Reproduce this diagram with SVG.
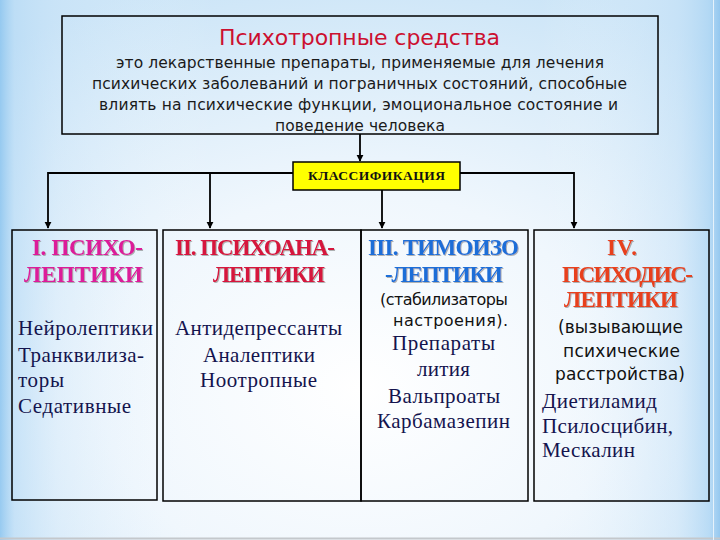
<svg xmlns="http://www.w3.org/2000/svg" width="720" height="540" viewBox="0 0 720 540">
  <defs>
    <radialGradient id="bgR" cx="0.5" cy="0.72" r="0.8">
      <stop offset="0" stop-color="#ffffff"/>
      <stop offset="0.45" stop-color="#f0f7fd"/>
      <stop offset="1" stop-color="#cae4f7"/>
    </radialGradient>
    <linearGradient id="bgL" x1="0" y1="0" x2="1" y2="0">
      <stop offset="0" stop-color="#8fc6ef" stop-opacity="0.9"/>
      <stop offset="0.02" stop-color="#b4d9f5" stop-opacity="0.6"/>
      <stop offset="0.08" stop-color="#c8e3f8" stop-opacity="0.3"/>
      <stop offset="0.3" stop-color="#ffffff" stop-opacity="0"/>
      <stop offset="0.75" stop-color="#ffffff" stop-opacity="0"/>
      <stop offset="0.94" stop-color="#c3e0f7" stop-opacity="0.4"/>
      <stop offset="0.985" stop-color="#a8d3f3" stop-opacity="0.7"/>
      <stop offset="1" stop-color="#8ec4ee" stop-opacity="0.9"/>
    </linearGradient>
    <marker id="arr" viewBox="0 0 10 10" refX="9" refY="5" markerWidth="4" markerHeight="4" orient="auto" markerUnits="strokeWidth">
      <path d="M0,0 L10,5 L0,10 z" fill="#000"/>
    </marker>
    <filter id="sh" x="-10%" y="-20%" width="120%" height="140%">
      <feDropShadow dx="1" dy="1" stdDeviation="0.6" flood-color="#808080" flood-opacity="0.6"/>
    </filter>
    <style>
      .box{fill:none;stroke:#000;stroke-width:1.5}
      .conn{stroke:#000;stroke-width:1.8;fill:none}
      .sans{font-family:"DejaVu Sans","Liberation Sans",sans-serif;fill:#1a1a1a}
      .serif{font-family:"Liberation Serif","Times New Roman",serif}
      .hd{font-family:"Liberation Serif","Times New Roman",serif;font-weight:bold;font-size:23px;filter:url(#sh)}
      .body{font-family:"Liberation Serif","Times New Roman",serif;font-size:21px;fill:#14144e}
      .small{font-family:"DejaVu Sans","Liberation Sans",sans-serif;font-size:16px;fill:#111}
      .small2{font-family:"DejaVu Sans","Liberation Sans",sans-serif;font-size:17px;fill:#111}
    </style>
  </defs>

  <rect x="0" y="0" width="720" height="540" fill="url(#bgR)"/>
  <rect x="0" y="0" width="720" height="540" fill="url(#bgL)"/>
  <line x1="0" y1="538.5" x2="720" y2="538.5" stroke="#c4c8cc" stroke-width="2"/>
  <line x1="713.5" y1="0" x2="713.5" y2="540" stroke="#e6f2fb" stroke-width="1"/>

  <g id="connectors">
    <line class="conn" x1="360" y1="134" x2="360" y2="161" marker-end="url(#arr)"/>
    <polyline class="conn" points="293,173 48,173 48,228" marker-end="url(#arr)"/>
    <line class="conn" x1="210" y1="173" x2="210" y2="228" marker-end="url(#arr)"/>
    <line class="conn" x1="382" y1="190" x2="382" y2="228" marker-end="url(#arr)"/>
    <polyline class="conn" points="460,173 574,173 574,228" marker-end="url(#arr)"/>
  </g>

  <g id="definition">
    <rect class="box" x="62" y="16" width="596" height="118"/>
    <text x="219" y="45" font-family="DejaVu Sans, Liberation Sans, sans-serif" font-size="22" fill="#cc1030" textLength="281">Психотропные средства</text>
    <text class="sans" font-size="15.5" x="116" y="68" textLength="488">это лекарственные препараты, применяемые для лечения</text>
    <text class="sans" font-size="15.5" x="92" y="89" textLength="535">психических заболеваний и пограничных состояний, способные</text>
    <text class="sans" font-size="15.5" x="99" y="110" textLength="519">влиять на психические функции, эмоциональное состояние и</text>
    <text class="sans" font-size="15.5" x="275" y="131" textLength="170">поведение человека</text>
  </g>

  <g id="classification">
    <rect x="293" y="162" width="167" height="28" fill="#ffff00" stroke="#000" stroke-width="1.5"/>
    <text class="serif" x="308" y="180" font-size="13.5" font-weight="bold" fill="#111" textLength="137">КЛАССИФИКАЦИЯ</text>
  </g>

  <g id="group1">
    <rect class="box" x="12" y="230" width="145" height="270"/>
    <text class="hd" x="32" y="255" fill="#dc1a9a" textLength="111">I. ПСИХО-</text>
    <text class="hd" x="24" y="282" fill="#dc1a9a" textLength="119">ЛЕПТИКИ</text>
    <text class="body" x="18" y="335" textLength="135">Нейролептики</text>
    <text class="body" x="18" y="362" textLength="126">Транквилиза-</text>
    <text class="body" x="18" y="387" textLength="46">торы</text>
    <text class="body" x="18" y="413" textLength="113">Седативные</text>
  </g>

  <g id="group2">
    <rect class="box" x="163" y="230" width="198" height="271"/>
    <text class="hd" x="175" y="255" fill="#d6123e" textLength="160">II. ПСИХОАНА-</text>
    <text class="hd" x="213" y="282" fill="#d6123e" textLength="112">ЛЕПТИКИ</text>
    <text class="body" x="175" y="335" textLength="167">Антидепрессанты</text>
    <text class="body" x="203" y="362" textLength="112">Аналептики</text>
    <text class="body" x="200" y="387" textLength="117">Ноотропные</text>
  </g>

  <g id="group3">
    <rect class="box" x="361" y="230" width="167" height="271"/>
    <text class="hd" x="368" y="255" fill="#1e6ed8" textLength="151">III. ТИМОИЗО</text>
    <text class="hd" x="385" y="282" fill="#1e6ed8" textLength="118">-ЛЕПТИКИ</text>
    <text class="small" x="380" y="305" textLength="128">(стабилизаторы</text>
    <text class="small" x="393" y="326" textLength="115">настроения).</text>
    <text class="body" x="392" y="350" textLength="103">Препараты</text>
    <text class="body" x="417" y="376" textLength="53">лития</text>
    <text class="body" x="388" y="403" textLength="112">Вальпроаты</text>
    <text class="body" x="377" y="428" textLength="133">Карбамазепин</text>
  </g>

  <g id="group4">
    <rect class="box" x="534" y="230" width="175" height="271"/>
    <text class="hd" x="607" y="255" fill="#e8401c" textLength="30">IV.</text>
    <text class="hd" x="562" y="282" fill="#e8401c" textLength="131">ПСИХОДИС-</text>
    <text class="hd" x="564" y="307" fill="#e8401c" textLength="114">ЛЕПТИКИ</text>
    <text class="small2" x="558" y="333" textLength="125">(вызывающие</text>
    <text class="small2" x="563" y="357" textLength="117">психические</text>
    <text class="small2" x="555" y="380" textLength="130">расстройства)</text>
    <text class="body" x="542" y="408" textLength="115">Диетиламид</text>
    <text class="body" x="542" y="433" textLength="131">Псилосцибин,</text>
    <text class="body" x="542" y="457" textLength="93">Мескалин</text>
  </g>
</svg>
